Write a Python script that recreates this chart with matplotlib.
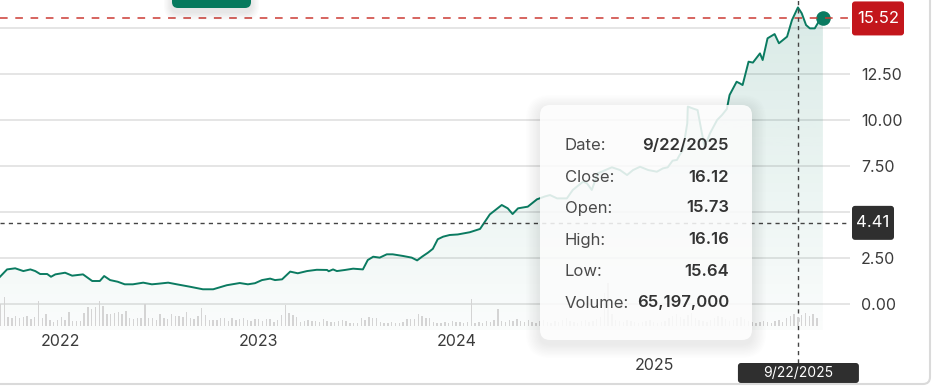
import numpy as np
import pandas as pd
import matplotlib
matplotlib.use("Agg")
from matplotlib import pyplot as plt
from matplotlib import dates as mdates
from matplotlib import transforms as mtransforms
from matplotlib.patches import FancyBboxPatch, Polygon
from matplotlib.colors import to_rgb

plt.rcParams['font.family'] = ['Inter', 'DejaVu Sans']

# closing prices
price_dates = [
    "2021-09-12", "2021-09-25", "2021-10-10", "2021-10-25", "2021-11-07", "2021-11-16",
    "2021-11-25", "2021-12-08", "2021-12-15", "2021-12-23", "2022-01-10", "2022-01-23",
    "2022-02-12", "2022-03-01", "2022-03-15", "2022-03-23", "2022-04-03", "2022-04-17",
    "2022-04-30", "2022-05-15", "2022-06-03", "2022-06-19", "2022-06-30", "2022-07-19",
    "2022-08-04", "2022-08-28", "2022-09-21", "2022-10-10", "2022-11-04", "2022-11-28",
    "2022-12-13", "2022-12-26", "2023-01-08", "2023-01-23", "2023-02-01", "2023-02-14",
    "2023-03-01", "2023-03-15", "2023-04-01", "2023-04-19", "2023-05-08", "2023-05-11",
    "2023-05-19", "2023-05-26", "2023-06-10", "2023-06-25", "2023-07-13", "2023-07-22",
    "2023-08-01", "2023-08-13", "2023-08-26", "2023-09-06", "2023-09-25", "2023-10-11",
    "2023-10-21", "2023-10-30", "2023-11-10", "2023-11-19", "2023-11-28", "2023-12-08",
    "2023-12-20", "2024-01-04", "2024-01-26", "2024-02-14", "2024-03-03", "2024-03-25",
    "2024-04-05", "2024-04-14", "2024-04-24", "2024-05-12", "2024-05-29", "2024-06-13",
    "2024-06-22", "2024-07-05", "2024-07-23", "2024-08-03", "2024-08-22", "2024-08-29",
    "2024-09-07", "2024-09-18", "2024-10-14", "2024-10-29", "2024-11-11", "2024-11-22",
    "2024-12-05", "2024-12-20", "2025-01-05", "2025-01-16", "2025-01-25", "2025-02-03",
    "2025-02-11", "2025-02-16", "2025-02-22", "2025-03-02", "2025-03-03", "2025-03-12",
    "2025-03-21", "2025-03-29", "2025-04-03", "2025-04-13", "2025-04-26", "2025-05-05",
    "2025-05-14", "2025-05-19", "2025-06-01", "2025-06-07", "2025-06-12", "2025-06-23",
    "2025-07-01", "2025-07-14", "2025-07-19", "2025-07-28", "2025-08-10", "2025-08-18",
    "2025-09-02", "2025-09-11", "2025-09-22", "2025-09-29", "2025-10-07", "2025-10-14",
    "2025-10-23", "2025-11-01", "2025-11-07",
]
price_close = [
    1.48, 1.88, 1.94, 1.79, 1.88, 1.79,
    1.63, 1.63, 1.48, 1.61, 1.70, 1.54,
    1.61, 1.25, 1.25, 1.52, 1.30, 1.21,
    1.07, 1.07, 1.16, 1.07, 1.10, 1.16,
    1.07, 0.94, 0.80, 0.80, 1.02, 1.14,
    1.07, 1.13, 1.30, 1.38, 1.30, 1.34,
    1.76, 1.67, 1.79, 1.86, 1.85, 1.78,
    1.88, 1.79, 1.85, 1.92, 1.88, 2.39,
    2.57, 2.52, 2.70, 2.70, 2.61, 2.52,
    2.37, 2.57, 2.79, 3.00, 3.52, 3.66,
    3.75, 3.78, 3.90, 4.08, 4.87, 5.38,
    5.20, 4.89, 5.20, 5.29, 5.69, 5.85,
    5.92, 5.74, 5.74, 6.20, 6.65, 6.56,
    6.20, 7.10, 7.43, 7.28, 7.01, 7.28,
    7.46, 7.28, 7.19, 7.37, 7.43, 7.79,
    7.83, 8.10, 8.37, 9.82, 10.73, 10.63,
    10.54, 9.28, 8.55, 9.28, 10.00, 10.27,
    10.60, 11.36, 12.08, 11.99, 11.90, 13.17,
    13.12, 13.62, 13.26, 14.44, 14.67, 14.17,
    14.53, 15.43, 16.12, 15.80, 15.16, 14.98,
    14.98, 15.43, 15.52,
]

# weekly volume, millions of shares
volume_start = "2021-09-13"
volume_m = [
    110, 145, 45, 40, 50, 40, 45, 50, 35, 45, 125, 40, 60, 30, 20, 30, 45, 30, 70, 25,
    25, 25, 65, 95, 85, 95, 125, 100, 60, 60, 65, 70, 60, 75, 40, 35, 40, 40, 110, 40,
    40, 30, 60, 40, 35, 60, 50, 50, 45, 70, 40, 35, 50, 90, 55, 30, 30, 30, 40, 40,
    25, 40,
    30, 35, 40, 30, 25, 35, 35, 25, 35, 35, 20, 30, 55, 105, 65, 55, 45, 20, 25, 30,
    25, 25, 20, 35, 25, 20, 20, 25, 30, 25, 15, 15, 15, 40, 30, 45, 40, 40, 20, 15,
    15, 20, 15, 15, 20, 35, 35, 35, 60, 50, 40, 40, 20, 15, 15, 20, 15, 25, 20, 20,
    15, 20, 135, 15, 20, 15, 25, 20, 30, 85, 25, 20, 30, 25, 35, 25, 20, 30,
    20, 15, 25, 30, 20, 15, 25, 20, 30, 40, 25, 20, 15, 25, 30, 20, 25, 35, 45, 165,
    215, 60, 30, 25, 20, 30, 25, 20, 15, 20, 25, 30, 20, 15, 20, 25, 40, 50, 60, 45,
    35, 55, 65, 40, 30, 25, 20, 30, 40, 50, 45, 35, 25, 30, 40, 45, 35, 25, 20, 15,
    20, 25, 20, 15, 25, 30, 20, 40, 50, 60, 45, 55, 65, 50, 60, 40,
]

y_ticks = [0, 2.5, 5, 7.5, 10, 12.5, 15]
year_labels = ["2022", "2023", "2024", "2025"]
last_price = 15.52
cursor_date = "2025-09-22"
cursor_price = 4.41
tooltip_labels = ["Date:", "Close:", "Open:", "High:", "Low:", "Volume:"]
tooltip_values = ["9/22/2025", "16.12", "15.73", "16.16", "15.64", "65,197,000"]

W, H = 936, 392
GREEN = "#0b7b61"
IDENT = mtransforms.IdentityTransform()


def px_box(x0, y0, w, h, fc, r=4, z=10, alpha=1.0, ec="none", lw=0):
    # box given in pixels from top-left of the image
    p = FancyBboxPatch((x0, H - y0 - h), w, h, boxstyle=f"round,pad=0,rounding_size={r}",
                       fc=fc, ec=ec, lw=lw, alpha=alpha, transform=IDENT, zorder=z)
    fig.add_artist(p)
    return p


def shadow(x0, y0, w, h, r, z, steps=10, spread=14, a=0.008):
    for k in range(steps, 0, -1):
        s = spread * k / steps
        px_box(x0 - s, y0 - s + 4, w + 2 * s, h + 2 * s, "black", r=r + s, z=z, alpha=a)


fig = plt.figure(figsize=(W / 100, H / 100), dpi=100)
fig.patch.set_facecolor("white")

ax = fig.add_axes([0, 1 - 330 / H, 850 / W, 330 / H])
vax = fig.add_axes([0, 1 - 326 / H, 850 / W, 45 / H], sharex=ax)
vax.set_zorder(ax.get_zorder() + 1)
vax.patch.set_visible(False)

dates = pd.to_datetime(price_dates)
xd = mdates.date2num(dates)
close = np.array(price_close)
x_lo = mdates.date2num(pd.Timestamp("2021-09-12"))
x_hi = mdates.date2num(pd.Timestamp("2025-12-27"))
y_lo, y_hi = -1.413, 16.522

# gradient area under the line
rgba = np.zeros((256, 1, 4))
rgba[..., :3] = to_rgb(GREEN)
rgba[..., 3] = np.linspace(0.16, 0.02, 256)[:, None]
im = ax.imshow(rgba, aspect="auto", extent=[x_lo, x_hi, y_lo, y_hi], origin="upper", zorder=1)
poly = Polygon(np.column_stack([np.r_[xd, xd[-1], xd[0]], np.r_[close, y_lo, y_lo]]),
               closed=True, fc="none", ec="none", transform=ax.transData)
ax.add_patch(poly)
im.set_clip_path(poly)

ax.plot(xd, close, color=GREEN, lw=1.4, zorder=3, solid_joinstyle="round")
ax.scatter([xd[-1]], [close[-1]], s=110, color=GREEN, zorder=4, linewidths=0)

ax.set_xlim(x_lo, x_hi)
ax.set_ylim(y_lo, y_hi)
ax.set_yticks(y_ticks)
# labels sitting under the price tags are hidden, as on the page
hidden = [v for v in y_ticks if abs(v - last_price) < 0.9 or abs(v - cursor_price) < 0.9]
ax.set_yticklabels(["" if v in hidden else f"{v:.2f}" for v in y_ticks])
ax.yaxis.tick_right()
ax.tick_params(axis="y", length=0, pad=8, labelsize=11.5, labelcolor="#3b3b3b")
ax.tick_params(axis="x", length=0, labelbottom=False)
ax.grid(axis="y", color="#dedede", lw=1.1)
ax.set_axisbelow(True)
for s in ax.spines.values():
    s.set_visible(False)

# volume bars
vdates = pd.date_range(volume_start, periods=len(volume_m), freq="7D")
vax.bar(mdates.date2num(vdates), volume_m, width=2.6, color="#d4d4d4", zorder=2)
vax.set_ylim(0, 225)
vax.axis("off")
ax.set_xlim(x_lo, x_hi)

# last price and cursor lines
ax.axhline(last_price, color="#cc3b34", lw=1.1, ls=(0, (5, 5)), zorder=5)
ax.axhline(cursor_price, color="#444444", lw=1.0, ls=(0, (3, 3)), zorder=5)
cx = mdates.date2num(pd.Timestamp(cursor_date))
ax.axvline(cx, ymin=-33 / 330, ymax=1, color="#444444", lw=1.0, ls=(0, (3, 3)),
           zorder=5, clip_on=False)

# year labels under the chart
ylab = mtransforms.blended_transform_factory(ax.transData, IDENT)
for i, lab in enumerate(year_labels):
    yy = H - (365 if i == len(year_labels) - 1 else 341)
    ax.text(mdates.date2num(pd.Timestamp(f"{lab}-01-01")), yy, lab, transform=ylab,
            ha="center", va="center", fontsize=11.5, color="#3b3b3b", clip_on=False)

# value tags on the right
_, py_last = ax.transData.transform((x_lo, last_price))
_, py_cur = ax.transData.transform((x_lo, cursor_price))
px_cur, _ = ax.transData.transform((cx, 0))
px_box(852, H - py_last - 17, 52, 34, "#c3161c", r=3, z=20)
fig.text(878, py_last, f"{last_price:.2f}", transform=IDENT, ha="center", va="center",
         color="white", fontsize=12, zorder=21)
px_box(852, H - py_cur - 17, 42, 34, "#2f2f2f", r=3, z=20)
fig.text(873, py_cur, f"{cursor_price:.2f}", transform=IDENT, ha="center", va="center",
         color="white", fontsize=12, zorder=21)
px_box(px_cur - 60, 363, 121, 20, "#2f2f2f", r=3, z=20)
fig.text(px_cur, H - 373, tooltip_values[0], transform=IDENT, ha="center", va="center",
         color="white", fontsize=10, zorder=21)

# tooltip card
shadow(540, 105, 212, 235, 10, 15)
px_box(540, 105, 212, 235, "white", r=10, z=16, alpha=0.86)
row_y = [145, 177, 208, 240, 271, 303]
for lab, val, yy in zip(tooltip_labels, tooltip_values, row_y):
    fig.text(565, H - yy, lab, transform=IDENT, ha="left", va="center",
             fontsize=12, color="#4a4a4a", zorder=17)
    fig.text(729, H - yy, val, transform=IDENT, ha="right", va="center",
             fontsize=12, color="#333333", fontweight="semibold", zorder=17)

# green button peeking at the top
shadow(172, -12, 79, 20, 6, 18, steps=6, spread=8, a=0.015)
px_box(172, -12, 79, 20, "#077a5e", r=6, z=19)

# card border
px_box(-20, -20, 950, 404, "none", r=7, z=22, ec="#dadada", lw=1.5)

fig.savefig("out.png", dpi=100, facecolor="white")
